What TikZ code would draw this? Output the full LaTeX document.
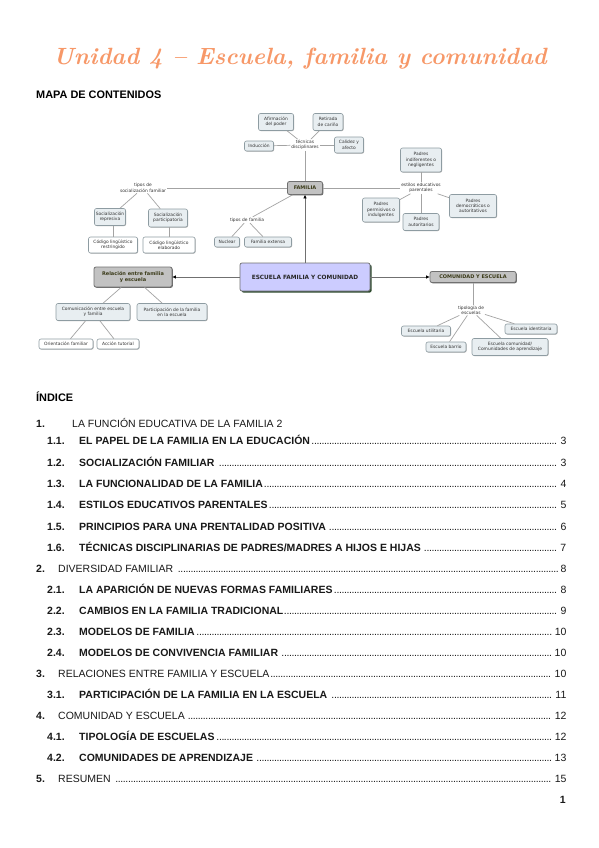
\documentclass[tikz,border=0pt]{standalone}
\usepackage{fontspec}
\usetikzlibrary{arrows.meta,shadows}
\newfontfamily\lib{Liberation Sans}
\newfontfamily\mapf{DejaVu Sans}
\definecolor{titleor}{HTML}{F79868}
\definecolor{boxfill}{HTML}{E8EEF1}
\definecolor{boxline}{HTML}{8E9CA2}
\definecolor{gfill}{HTML}{C2C2C2}
\definecolor{gline}{HTML}{707070}
\definecolor{gtext}{HTML}{3A3A18}
\definecolor{escfill}{HTML}{CCCCFF}
\definecolor{escshadow}{HTML}{2E4A2E}
\definecolor{linkc}{HTML}{A3A3A3}
\definecolor{maptext}{HTML}{333333}
\newcommand{\tocdots}{\leaders\hbox to 2.5pt{\hss.\hss}\hfill}
\newcommand{\tocrow}[3]{\makebox[\dimexpr566pt-#1pt\relax][l]{{#2}\tocdots\,#3}}
\begin{document}
\begin{tikzpicture}[x=1pt,y=-1pt,
  mapfont/.style={font=\mapf\fontsize{4.4}{5.3}\selectfont},
  lbox/.style={mapfont, draw=boxline, fill=boxfill, rounded corners=2pt, line width=0.6pt,
    align=center, inner sep=0.8pt, text=maptext,
    drop shadow={shadow xshift=0.6pt, shadow yshift=-0.6pt, fill=black!35, opacity=1}},
  wbox/.style={lbox, fill=white},
  gbox/.style={font=\mapf\bfseries\fontsize{5}{6}\selectfont, draw=gline, fill=gfill,
    rounded corners=2pt, line width=0.8pt, align=center, inner sep=0.8pt, text=gtext,
    drop shadow={shadow xshift=0.8pt, shadow yshift=-0.8pt, fill=black!60, opacity=1}},
  escbox/.style={font=\mapf\bfseries\fontsize{5.8}{7}\selectfont, draw=gline, fill=escfill,
    rounded corners=2pt, line width=0.7pt, align=center, inner sep=1pt, text=black!85,
    drop shadow={shadow xshift=1.6pt, shadow yshift=-1.6pt, fill=escshadow, opacity=1}},
  lab/.style={mapfont, align=center, inner sep=0.8pt, text=maptext},
  link/.style={draw=linkc, line width=0.7pt},
  mainarrow/.style={draw=gline, line width=0.7pt, -{Triangle[length=3.5pt,width=3pt,color=black]}},
  toc/.style={font=\lib\fontsize{10.5}{12}\selectfont, inner sep=0pt, text=black!90},
  head/.style={font=\lib\bfseries\fontsize{10.9}{12}\selectfont, inner sep=0pt, anchor=base west}
]
\path[use as bounding box, fill=white] (0,0) rectangle (599,848);

% title
\node[font=\rmfamily\bfseries\itshape\fontsize{23.5}{28}\selectfont, text=titleor, anchor=base, inner sep=0pt]
  (title) at (300,65) {Unidad 4 – Escuela, familia y comunidad};
\node[head] (mapa) at (36,99) {MAPA DE CONTENIDOS};

% concept map nodes
\node[lbox, minimum width=35pt, minimum height=17pt] (afirm) at (276,122) {Afirmación\\del poder};
\node[lbox, minimum width=30pt, minimum height=17pt] (retir) at (328,122) {Retirada\\de cariño};
\node[lbox, minimum width=29pt, minimum height=10pt] (induc) at (259,146) {Inducción};
\node[lab] (tec) at (305,145) {técnicas\\disciplinares};
\node[lbox, minimum width=29pt, minimum height=16pt] (calid) at (349,145) {Calidez y\\afecto};
\node[gbox, minimum width=35pt, minimum height=13pt] (fam) at (305,188) {FAMILIA};

\node[lab] (tiposoc) at (143,188) {tipos de\\socialización familiar};
\node[lbox, minimum width=31pt, minimum height=17pt] (repres) at (110,217) {Socialización\\represiva};
\node[lbox, minimum width=39pt, minimum height=18pt] (partic) at (168,218) {Socialización\\participatoria};
\node[wbox, minimum width=49pt, minimum height=16pt] (restr) at (113,245) {Código lingüístico\\restringido};
\node[wbox, minimum width=52pt, minimum height=16pt] (elab) at (169,245) {Código lingüístico\\elaborado};

\node[lab] (tiposfam) at (247,220) {tipos de familia};
\node[lbox, minimum width=25pt, minimum height=10pt] (nuclear) at (227,242) {Nuclear};
\node[lbox, minimum width=47pt, minimum height=10pt] (extensa) at (268,242) {Familia extensa};

\node[lab] (estilos) at (421,188) {estilos educativos\\parentales};
\node[lbox, minimum width=41pt, minimum height=24pt] (indif) at (421,160) {Padres\\indiferentes o\\negligentes};
\node[lbox, minimum width=37pt, minimum height=24pt] (permis) at (381,210) {Padres\\permisivos o\\indulgentes};
\node[lbox, minimum width=36pt, minimum height=17pt] (autor) at (421,222) {Padres\\autoritarios};
\node[lbox, minimum width=47pt, minimum height=23pt] (democ) at (473,206) {Padres\\democráticos o\\autoritativos};

\node[escbox, minimum width=130pt, minimum height=28pt] (esc) at (305,277) {ESCUELA FAMILIA Y COMUNIDAD};
\node[gbox, minimum width=78pt, minimum height=20pt] (rel) at (133,277) {Relación entre familia\\y escuela};
\node[gbox, minimum width=86pt, minimum height=11pt] (com) at (473,277) {COMUNIDAD Y ESCUELA};

\node[lbox, minimum width=74pt, minimum height=17pt] (comun) at (93,312) {Comunicación entre escuela\\y familia};
\node[lbox, minimum width=70pt, minimum height=17pt] (partf) at (172,312) {Participación de la familia\\en la escuela};
\node[wbox, minimum width=54pt, minimum height=10pt] (orient) at (66,344) {Orientación familiar};
\node[wbox, minimum width=42pt, minimum height=10pt] (accion) at (118,344) {Acción tutorial};

\node[lab] (tipol) at (471,310) {tipología de\\escuelas};
\node[lbox, minimum width=49pt, minimum height=10pt] (util) at (426,331) {Escuela utilitaria};
\node[lbox, minimum width=40pt, minimum height=10pt] (barrio) at (446,347) {Escuela barrio};
\node[lbox, minimum width=76pt, minimum height=17pt] (ecom) at (510,347) {Escuela comunidad/\\Comunidades de aprendizaje};
\node[lbox, minimum width=52pt, minimum height=10pt] (ident) at (531,329) {Escuela identitaria};

% links
\draw[link] (tec) -- (afirm);
\draw[link] (tec) -- (retir);
\draw[link] (tec) -- (induc);
\draw[link] (tec) -- (calid);
\draw[link] (tec) -- (fam);
\draw[link] (fam) -- (tiposoc);
\draw[link] (tiposoc) -- (repres);
\draw[link] (tiposoc) -- (partic);
\draw[link] (restr.north |- repres.south) -- (restr.north);
\draw[link] (elab.north |- partic.south) -- (elab.north);
\draw[link] (fam) -- (tiposfam);
\draw[link] (tiposfam) -- (nuclear);
\draw[link] (tiposfam) -- (extensa);
\draw[link] (fam) -- (estilos);
\draw[link] (estilos) -- (indif);
\draw[link] (estilos) -- (permis);
\draw[link] (estilos) -- (autor);
\draw[link] (estilos) -- (democ);
\draw[link] (rel) -- (comun);
\draw[link] (rel) -- (partf);
\draw[link] (comun) -- (orient);
\draw[link] (comun) -- (accion);
\draw[link] (com.south) -- (com.south |- tipol.north);
\draw[link] (tipol) -- (util);
\draw[link] (tipol) -- (barrio);
\draw[link] (tipol) -- (ecom);
\draw[link] (tipol) -- (ident);
\draw[mainarrow] (esc) -- (fam);
\draw[mainarrow] (esc) -- (rel);
\draw[mainarrow] (esc) -- (com);

% index
\node[head] (indice) at (36,401) {ÍNDICE};

\node[toc, anchor=base west] (n1) at (36,427.5) {\bfseries 1.};
\node[toc, anchor=base west] (t1) at (72,427.5) {LA FUNCIÓN EDUCATIVA DE LA FAMILIA\ 2};

\node[toc, anchor=base west] (n11) at (47,444.5) {\bfseries 1.1.};
\node[toc, anchor=base west] (t11) at (79,444.5) {\tocrow{79}{\bfseries EL PAPEL DE LA FAMILIA EN LA EDUCACIÓN}{3}};
\node[toc, anchor=base west] (n12) at (47,466.5) {\bfseries 1.2.};
\node[toc, anchor=base west] (t12) at (79,466.5) {\tocrow{79}{\bfseries SOCIALIZACIÓN FAMILIAR }{3}};
\node[toc, anchor=base west] (n13) at (47,487.5) {\bfseries 1.3.};
\node[toc, anchor=base west] (t13) at (79,487.5) {\tocrow{79}{\bfseries LA FUNCIONALIDAD DE LA FAMILIA}{4}};
\node[toc, anchor=base west] (n14) at (47,508.5) {\bfseries 1.4.};
\node[toc, anchor=base west] (t14) at (79,508.5) {\tocrow{79}{\bfseries ESTILOS EDUCATIVOS PARENTALES}{5}};
\node[toc, anchor=base west] (n15) at (47,530.5) {\bfseries 1.5.};
\node[toc, anchor=base west] (t15) at (79,530.5) {\tocrow{79}{\bfseries PRINCIPIOS PARA UNA PRENTALIDAD POSITIVA }{6}};
\node[toc, anchor=base west] (n16) at (47,551.5) {\bfseries 1.6.};
\node[toc, anchor=base west] (t16) at (79,551.5) {\tocrow{79}{\bfseries TÉCNICAS DISCIPLINARIAS DE PADRES/MADRES A HIJOS E HIJAS }{7}};

\node[toc, anchor=base west] (n2) at (36,572.5) {\bfseries 2.};
\node[toc, anchor=base west] (t2) at (58,572.5) {\tocrow{58}{DIVERSIDAD FAMILIAR }{8}};
\node[toc, anchor=base west] (n21) at (47,593.5) {\bfseries 2.1.};
\node[toc, anchor=base west] (t21) at (79,593.5) {\tocrow{79}{\bfseries LA APARICIÓN DE NUEVAS FORMAS FAMILIARES}{8}};
\node[toc, anchor=base west] (n22) at (47,614.5) {\bfseries 2.2.};
\node[toc, anchor=base west] (t22) at (79,614.5) {\tocrow{79}{\bfseries CAMBIOS EN LA FAMILIA TRADICIONAL}{9}};
\node[toc, anchor=base west] (n23) at (47,635.5) {\bfseries 2.3.};
\node[toc, anchor=base west] (t23) at (79,635.5) {\tocrow{79}{\bfseries MODELOS DE FAMILIA}{10}};
\node[toc, anchor=base west] (n24) at (47,656.5) {\bfseries 2.4.};
\node[toc, anchor=base west] (t24) at (79,656.5) {\tocrow{79}{\bfseries MODELOS DE CONVIVENCIA FAMILIAR }{10}};

\node[toc, anchor=base west] (n3) at (36,677.5) {\bfseries 3.};
\node[toc, anchor=base west] (t3) at (58,677.5) {\tocrow{58}{RELACIONES ENTRE FAMILIA Y ESCUELA}{10}};
\node[toc, anchor=base west] (n31) at (47,698.5) {\bfseries 3.1.};
\node[toc, anchor=base west] (t31) at (79,698.5) {\tocrow{79}{\bfseries PARTICIPACIÓN DE LA FAMILIA EN LA ESCUELA }{11}};

\node[toc, anchor=base west] (n4) at (36,719.5) {\bfseries 4.};
\node[toc, anchor=base west] (t4) at (58,719.5) {\tocrow{58}{COMUNIDAD Y ESCUELA }{12}};
\node[toc, anchor=base west] (n41) at (47,740.5) {\bfseries 4.1.};
\node[toc, anchor=base west] (t41) at (79,740.5) {\tocrow{79}{\bfseries TIPOLOGÍA DE ESCUELAS}{12}};
\node[toc, anchor=base west] (n42) at (47,761.5) {\bfseries 4.2.};
\node[toc, anchor=base west] (t42) at (79,761.5) {\tocrow{79}{\bfseries COMUNIDADES DE APRENDIZAJE }{13}};

\node[toc, anchor=base west] (n5) at (36,782.5) {\bfseries 5.};
\node[toc, anchor=base west] (t5) at (58,782.5) {\tocrow{58}{RESUMEN }{15}};

\node[toc, anchor=base east] (pagenum) at (566,803.5) {\bfseries 1};
\end{tikzpicture}
\end{document}
